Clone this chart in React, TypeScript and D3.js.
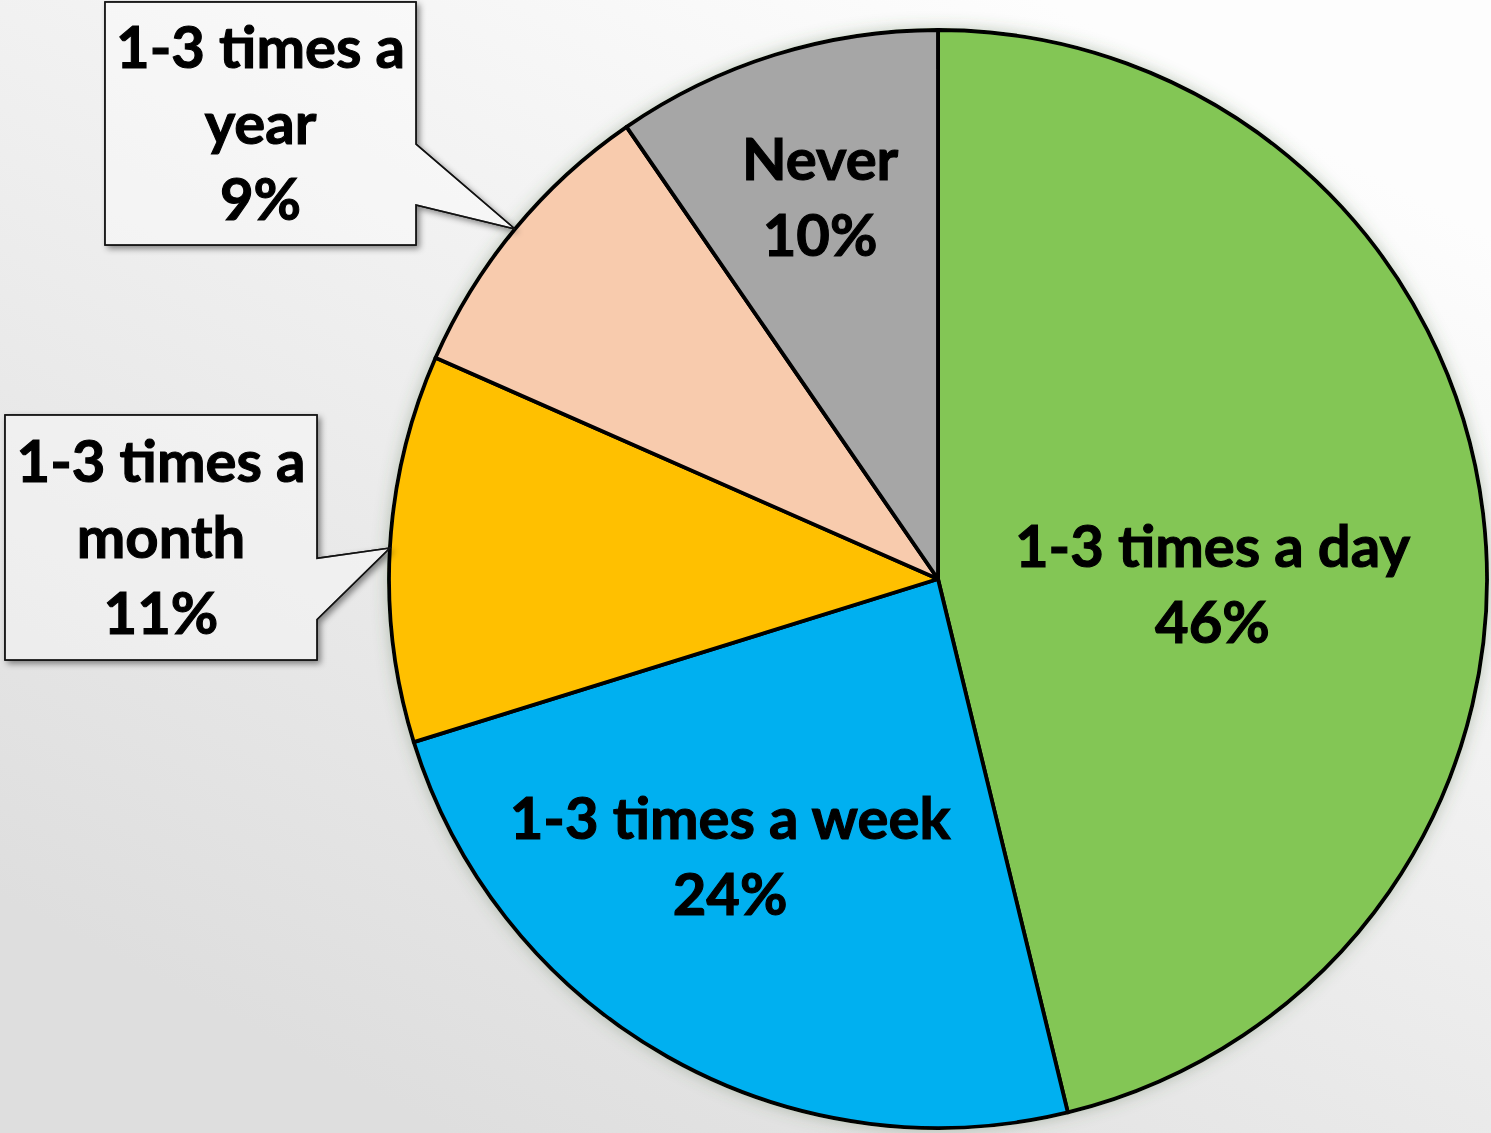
import React from 'react';
import * as d3 from 'd3';

const categories = ['1-3 times a day', '1-3 times a week', '1-3 times a month', '1-3 times a year', 'Never'];
const values = [46.2, 24.0, 11.4, 8.8, 9.6];
const colors = ['#83C655', '#00B0F0', '#FFC000', '#F8CBAD', '#A6A6A6'];
const labelLines = [['1-3 times a day'], ['1-3 times a week'], ['1-3 times a', 'month'], ['1-3 times a', 'year'], ['Never']];

// layout (style) for labels: inside labels as polar offsets, callouts as boxes
const W = 1491, H = 1133, CX = 938, CY = 579, R = 549;
const FONT = 'Lato, "Open Sans", sans-serif';
const FS = 58;
const LH = 76;
const inside: Record<string, { dAngle: number; rFrac: number }> = {
  '1-3 times a day': { dAngle: 8.1, rFrac: 0.5 },
  '1-3 times a week': { dAngle: 7.3, rFrac: 0.632 },
  'Never': { dAngle: 0.1, rFrac: 0.727 },
};
const callouts: Record<string, { x: number; y: number; w: number; h: number }> = {
  '1-3 times a year': { x: 105, y: 2, w: 311, h: 243 },
  '1-3 times a month': { x: 5, y: 415, w: 312, h: 245 },
};

export default function App() {
  const data = categories.map((c, i) => ({ c, v: values[i], color: colors[i], lines: labelLines[i] }));
  const pie = d3.pie<any>().value((d) => d.v).sort(null);
  const arcs = pie(data);
  const arc = d3.arc<any>().innerRadius(0).outerRadius(R);
  const total = d3.sum(values);

  const textBlock = (cx: number, cy: number, lines: string[], pct: string, key: string) => {
    const all = [...lines, pct];
    const n = all.length;
    return (
      <text key={key} fontFamily={FONT} fontWeight={700} fontSize={FS} textAnchor="middle" fill="#000" stroke="#000" strokeWidth={1.1}>
        {all.map((l, i) => (
          <tspan key={i} x={cx} y={cy + (i - (n - 1) / 2) * LH + 20}>{l}</tspan>
        ))}
      </text>
    );
  };

  return (
    <svg width={W} height={H} style={{ position: 'absolute', left: 0, top: 0 }}>
      <defs>
        <linearGradient id="bg" gradientUnits="userSpaceOnUse" x1={W * 0.7} y1={0} x2={W * 0.3} y2={H}>
          <stop offset="0" stopColor="#fdfdfd" />
          <stop offset="1" stopColor="#dedede" />
        </linearGradient>
        <filter id="glow" x="-10%" y="-10%" width="120%" height="120%">
          <feGaussianBlur in="SourceAlpha" stdDeviation="8" result="b" />
          <feFlood floodColor="#4a6a40" floodOpacity="0.35" />
          <feComposite in2="b" operator="in" result="s" />
          <feMerge>
            <feMergeNode in="s" />
            <feMergeNode in="SourceGraphic" />
          </feMerge>
        </filter>
        <filter id="boxShadow" x="-10%" y="-10%" width="130%" height="130%">
          <feDropShadow dx="3" dy="3" stdDeviation="3" floodColor="#000" floodOpacity="0.45" />
        </filter>
      </defs>
      <rect x={0} y={0} width={W} height={H} fill="url(#bg)" />
      <g transform={`translate(${CX},${CY})`}>
        <g filter="url(#glow)">
          {arcs.map((a, i) => (
            <path key={i} d={arc(a) as string} fill={a.data.color} stroke="#000" strokeWidth={3.8} strokeLinejoin="round" />
          ))}
        </g>
      </g>
      {arcs.map((a, i) => {
        const d = a.data;
        const pct = Math.round((d.v / total) * 100) + '%';
        const mid = (a.startAngle + a.endAngle) / 2;
        if (inside[d.c]) {
          const L = inside[d.c];
          const ang = mid + (L.dAngle * Math.PI) / 180;
          const r = L.rFrac * R;
          const x = CX + r * Math.sin(ang);
          const y = CY - r * Math.cos(ang);
          return textBlock(x, y, d.lines, pct, 'l' + i);
        }
        const b = callouts[d.c];
        const tipX = CX + R * Math.sin(mid);
        const tipY = CY - R * Math.cos(mid);
        const xr = b.x + b.w;
        const p1 = b.y + b.h * 0.585;
        const p2 = b.y + b.h * 0.835;
        const path = `M${b.x},${b.y}H${xr}V${p1}L${tipX},${tipY}L${xr},${p2}V${b.y + b.h}H${b.x}Z`;
        return (
          <g key={'c' + i}>
            <path d={path} fill="url(#bg)" stroke="#111" strokeWidth={1.5} filter="url(#boxShadow)" />
            <path d={path} fill="#ffffff" fillOpacity={0.35} stroke="#111" strokeWidth={1.5} />
            {textBlock(b.x + b.w / 2, b.y + b.h / 2, d.lines, pct, 't' + i)}
          </g>
        );
      })}
    </svg>
  );
}
